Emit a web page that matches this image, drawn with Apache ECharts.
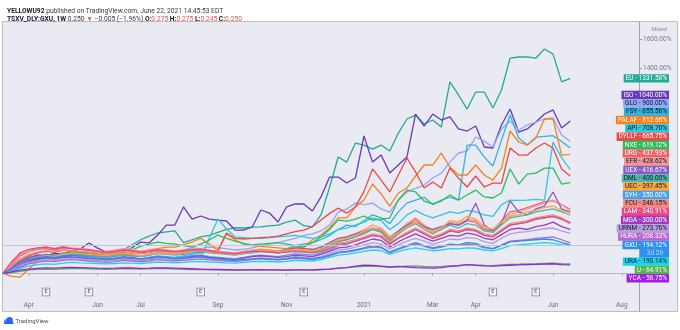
<!DOCTYPE html>
<html>
<head>
<meta charset="utf-8">
<script src="https://cdn.jsdelivr.net/npm/echarts@6/dist/echarts.min.js"></script>
<style>
  html, body { margin: 0; padding: 0; background: #ffffff; }
  #chart { width: 680px; height: 330px; }
</style>
</head>
<body>
<div id="chart"></div>
<script>
// Weekly bars (Monday of each week), with empty weeks to the right of the last bar
const weeks = [
  '2020-03-16','2020-03-23','2020-03-30','2020-04-06','2020-04-13','2020-04-20','2020-04-27',
  '2020-05-04','2020-05-11','2020-05-18','2020-05-25','2020-06-01','2020-06-08','2020-06-15',
  '2020-06-22','2020-06-29','2020-07-06','2020-07-13','2020-07-20','2020-07-27','2020-08-03',
  '2020-08-10','2020-08-17','2020-08-24','2020-08-31','2020-09-07','2020-09-14','2020-09-21',
  '2020-09-28','2020-10-05','2020-10-12','2020-10-19','2020-10-26','2020-11-02','2020-11-09',
  '2020-11-16','2020-11-23','2020-11-30','2020-12-07','2020-12-14','2020-12-21','2020-12-28',
  '2021-01-04','2021-01-11','2021-01-18','2021-01-25','2021-02-01','2021-02-08','2021-02-15',
  '2021-02-22','2021-03-01','2021-03-08','2021-03-15','2021-03-22','2021-03-29','2021-04-05',
  '2021-04-12','2021-04-19','2021-04-26','2021-05-03','2021-05-10','2021-05-17','2021-05-24',
  '2021-05-31','2021-06-07','2021-06-14','2021-06-21','2021-06-28','2021-07-05','2021-07-12',
  '2021-07-19','2021-07-26','2021-08-02','2021-08-09','2021-08-16'
];

// Time-scale labels, keyed by the bar that carries them
const monthTicks = {
  '2020-04-06': 'Apr', '2020-06-01': 'Jun', '2020-07-06': 'Jul', '2020-09-07': 'Sep',
  '2020-11-02': 'Nov', '2021-01-04': '2021', '2021-03-01': 'Mar', '2021-04-05': 'Apr',
  '2021-06-07': 'Jun', '2021-08-02': 'Aug'
};

// Price-scale ticks (percent change)
const priceTicks = [0, 200, 400, 600, 800, 1000, 1200, 1400, 1600];
const Y_MIN = -171;
const Y_MAX = 1716;

// Earnings events on GXU
const earnings = ['2020-04-20', '2020-05-25', '2020-08-24', '2020-11-16', '2021-04-19', '2021-05-24'];

// Percent change from the first bar, per symbol
const EU = [0, 25, 60, 85, 100, 115, 105, 120, 135, 140,
  130, 118, 125, 140, 160, 194, 230, 255, 276, 283,
  290, 210, 230, 250, 260, 280, 300, 312, 310, 316,
  318, 325, 330, 350, 364, 326, 318, 399, 588, 795,
  760, 889, 876, 849, 876, 835, 958, 1054, 1081, 1020,
  1047, 999, 1307, 1218, 1122, 1238, 1238, 1129, 1252, 1470,
  1477, 1477, 1470, 1532, 1497, 1307, 1331.58];
const ISO = [0, 37, 78, 105, 126, 119, 139, 132, 153, 167,
  208, 173, 146, 139, 139, 175, 214, 208, 262, 330,
  330, 454, 371, 392, 371, 364, 358, 296, 296, 317,
  433, 412, 351, 454, 474, 474, 426, 522, 658, 658,
  617, 651, 938, 760, 808, 685, 740, 795, 1088, 1006,
  1088, 1047, 1068, 986, 972, 1006, 863, 856, 1013, 1122,
  965, 986, 1033, 1088, 1116, 992, 1040];
const GLO = [0, 20, 50, 80, 95, 110, 100, 115, 125, 130,
  120, 110, 105, 115, 125, 130, 135, 150, 160, 150,
  145, 160, 175, 170, 180, 175, 170, 160, 165, 175,
  190, 200, 210, 225, 240, 260, 270, 290, 330, 419,
  440, 480, 470, 480, 440, 419, 500, 556, 580, 603,
  651, 685, 760, 822, 835, 931, 903, 863, 986, 1040,
  979, 1013, 1033, 1054, 1061, 945, 900];
const FSY = [0, 15, 40, 70, 90, 100, 95, 110, 120, 115,
  105, 100, 95, 105, 110, 100, 95, 110, 120, 115,
  110, 120, 130, 140, 150, 145, 140, 130, 135, 140,
  150, 160, 150, 170, 190, 200, 210, 230, 260, 300,
  330, 320, 360, 400, 380, 340, 420, 480, 500, 520,
  470, 500, 520, 501, 876, 876, 794, 733, 910, 1081,
  924, 876, 930, 935, 940, 900, 855.56];
const PALAF = [0, -20, -25, 30, 80, 110, 120, 125, 140, 150,
  140, 130, 125, 130, 140, 135, 150, 160, 170, 180,
  180, 195, 215, 240, 200, 160, 269, 230, 200, 190,
  185, 180, 175, 170, 175, 180, 228, 262, 310, 379,
  379, 454, 501, 610, 542, 460, 549, 583, 665, 740,
  740, 822, 726, 672, 672, 740, 672, 637, 719, 972,
  897, 876, 924, 1054, 1054, 808, 812.66];
const API = [0, 20, 50, 75, 90, 100, 95, 105, 110, 105,
  100, 95, 90, 95, 100, 95, 90, 95, 100, 105,
  110, 115, 120, 105, 240, 372, 303, 250, 245, 240,
  240, 245, 250, 255, 260, 250, 240, 250, 270, 300,
  310, 330, 350, 380, 360, 300, 340, 400, 430, 400,
  380, 400, 420, 410, 430, 420, 400, 390, 470, 500,
  498, 500, 505, 500, 897, 788, 708.70];
const DYLLF = [0, 40, 90, 120, 140, 150, 145, 160, 150, 140,
  130, 120, 115, 125, 130, 120, 115, 125, 140, 135,
  130, 140, 150, 145, 155, 150, 276, 240, 235, 240,
  245, 248, 255, 270, 285, 296, 320, 364, 410, 446,
  412, 454, 560, 713, 637, 556, 672, 788, 692, 583,
  624, 583, 719, 651, 590, 665, 590, 617, 617, 856,
  808, 808, 856, 890, 856, 713, 665.75];
const NXE = [0, 30, 60, 90, 110, 120, 115, 130, 145, 140,
  146, 135, 130, 140, 150, 160, 185, 200, 214, 205,
  200, 190, 180, 200, 228, 262, 240, 220, 205, 194,
  200, 205, 210, 200, 190, 180, 210, 248, 300, 364,
  357, 371, 392, 364, 371, 378, 501, 569, 556, 494,
  474, 494, 535, 501, 535, 569, 522, 515, 549, 713,
  610, 678, 685, 719, 719, 610, 619.12];
const URG = [0, 60, 120, 150, 165, 170, 160, 175, 170, 165,
  160, 150, 140, 150, 160, 150, 140, 150, 160, 150,
  145, 150, 160, 165, 150, 140, 135, 130, 140, 150,
  155, 150, 145, 150, 160, 150, 145, 160, 190, 220,
  230, 250, 280, 300, 290, 230, 270, 330, 370, 320,
  280, 300, 340, 330, 360, 350, 300, 290, 360, 420,
  430, 450, 470, 490, 495, 470, 437.93];
const EFR = [0, 70, 130, 160, 170, 180, 170, 185, 175, 170,
  165, 155, 150, 160, 170, 165, 150, 155, 165, 160,
  150, 155, 165, 170, 160, 150, 145, 140, 150, 160,
  165, 160, 150, 160, 170, 165, 160, 170, 200, 240,
  250, 270, 300, 330, 310, 250, 290, 340, 380, 330,
  290, 310, 350, 340, 370, 360, 310, 300, 350, 400,
  420, 440, 460, 480, 500, 470, 428.62];
const UEX = [0, 40, 80, 110, 120, 130, 125, 140, 135, 130,
  125, 120, 115, 120, 130, 125, 120, 130, 140, 135,
  130, 140, 150, 155, 145, 140, 135, 130, 140, 150,
  160, 155, 150, 160, 175, 170, 165, 180, 210, 240,
  250, 270, 290, 310, 300, 240, 290, 330, 350, 320,
  300, 320, 340, 330, 360, 480, 330, 290, 340, 495,
  420, 400, 440, 460, 556, 440, 416.67];
const DML = [0, 30, 70, 100, 115, 125, 120, 135, 130, 125,
  120, 115, 110, 120, 125, 120, 115, 125, 135, 130,
  125, 130, 140, 150, 140, 135, 130, 125, 135, 145,
  150, 145, 140, 150, 160, 155, 150, 165, 190, 220,
  230, 250, 270, 300, 280, 220, 270, 310, 340, 300,
  270, 300, 330, 310, 340, 330, 290, 280, 330, 380,
  390, 400, 420, 430, 440, 420, 400];
const UEC = [0, 20, 60, 90, 110, 120, 115, 130, 140, 135,
  130, 125, 120, 130, 135, 130, 120, 130, 140, 135,
  130, 140, 150, 160, 145, 140, 135, 130, 140, 150,
  160, 155, 150, 155, 165, 160, 155, 170, 200, 230,
  240, 260, 290, 310, 300, 240, 280, 320, 350, 310,
  280, 310, 360, 350, 390, 370, 320, 300, 350, 390,
  400, 420, 430, 450, 460, 430, 397.45];
const SYH = [0, 25, 55, 80, 95, 105, 100, 110, 115, 110,
  105, 100, 95, 100, 110, 105, 100, 110, 115, 110,
  105, 110, 120, 125, 115, 110, 105, 100, 110, 120,
  125, 120, 115, 125, 135, 130, 125, 140, 160, 190,
  200, 220, 240, 260, 250, 200, 240, 270, 300, 270,
  240, 260, 290, 280, 300, 290, 260, 250, 290, 330,
  340, 350, 370, 380, 390, 370, 350];
const FCU = [0, 50, 100, 130, 145, 155, 150, 160, 155, 150,
  145, 140, 130, 140, 150, 145, 135, 140, 150, 145,
  140, 145, 155, 160, 150, 140, 135, 130, 140, 145,
  150, 145, 140, 145, 155, 150, 145, 155, 180, 210,
  215, 230, 250, 270, 260, 210, 245, 280, 310, 280,
  250, 270, 300, 290, 310, 300, 270, 260, 300, 340,
  350, 360, 380, 390, 400, 380, 346.15];
const LAM = [0, 80, 140, 165, 175, 180, 170, 180, 170, 165,
  160, 150, 145, 150, 160, 155, 145, 150, 160, 155,
  150, 155, 160, 165, 155, 145, 140, 135, 145, 150,
  150, 145, 140, 145, 150, 145, 140, 150, 170, 200,
  205, 220, 240, 260, 250, 200, 240, 270, 300, 270,
  240, 260, 290, 280, 300, 290, 260, 250, 290, 330,
  340, 350, 370, 380, 390, 370, 340.91];
const MGA = [0, 30, 60, 85, 100, 110, 105, 115, 110, 105,
  100, 95, 90, 95, 105, 100, 95, 100, 110, 105,
  100, 105, 115, 120, 110, 105, 100, 95, 105, 115,
  120, 115, 110, 115, 125, 120, 115, 130, 150, 175,
  180, 195, 215, 235, 225, 180, 215, 245, 270, 245,
  220, 240, 260, 255, 275, 265, 240, 230, 265, 300,
  310, 300, 320, 330, 350, 320, 300];
const URNM = [0, 25, 55, 75, 85, 95, 90, 100, 105, 100,
  95, 90, 85, 90, 100, 95, 90, 95, 105, 100,
  95, 100, 105, 110, 100, 95, 90, 88, 95, 100,
  105, 100, 98, 105, 115, 110, 105, 115, 135, 160,
  165, 180, 195, 210, 200, 165, 195, 220, 240, 220,
  200, 215, 235, 230, 245, 240, 215, 205, 240, 270,
  280, 285, 295, 305, 310, 290, 273.76];
const HURA = [0, 20, 45, 65, 75, 85, 80, 90, 95, 90,
  85, 80, 75, 80, 90, 85, 80, 85, 95, 90,
  85, 90, 95, 100, 92, 88, 85, 82, 88, 95,
  100, 95, 92, 98, 105, 100, 95, 105, 120, 140,
  145, 155, 170, 180, 175, 140, 165, 185, 200, 185,
  170, 180, 195, 190, 200, 195, 175, 170, 195, 220,
  225, 230, 240, 245, 250, 230, 208.33];
const GXU = [0, 35, 75, 95, 110, 115, 110, 120, 125, 120,
  115, 105, 100, 105, 115, 110, 100, 105, 115, 110,
  100, 105, 110, 115, 105, 100, 95, 90, 95, 100,
  105, 100, 95, 100, 110, 105, 100, 110, 125, 145,
  150, 160, 175, 190, 180, 145, 170, 190, 210, 190,
  175, 185, 200, 195, 210, 205, 180, 170, 190, 215,
  220, 225, 230, 235, 230, 210, 194.12];
const URA = [0, 15, 35, 50, 60, 65, 62, 70, 75, 72,
  70, 68, 65, 68, 72, 70, 68, 72, 78, 75,
  72, 75, 80, 82, 78, 75, 72, 70, 75, 80,
  82, 80, 78, 82, 90, 88, 85, 95, 110, 125,
  130, 140, 150, 160, 155, 130, 150, 165, 175, 165,
  155, 160, 170, 168, 175, 172, 160, 155, 170, 190,
  195, 200, 205, 210, 205, 195, 190.14];
const U = [0, 5, 15, 22, 28, 30, 28, 32, 35, 33,
  32, 30, 28, 30, 33, 32, 30, 32, 35, 33,
  30, 28, 27, 26, 25, 24, 23, 22, 22, 24,
  25, 24, 22, 23, 25, 24, 23, 26, 30, 35,
  40, 45, 48, 50, 47, 42, 45, 50, 52, 48,
  45, 48, 52, 55, 60, 58, 55, 53, 58, 62,
  63, 65, 66, 68, 70, 66, 64.91];
const YCA = [0, 10, 22, 30, 35, 38, 36, 40, 42, 40,
  38, 36, 35, 36, 38, 37, 35, 36, 38, 37,
  36, 34, 32, 30, 28, 27, 26, 25, 24, 25,
  26, 25, 24, 23, 24, 25, 24, 27, 30, 36,
  40, 50, 57, 55, 50, 45, 48, 44, 40, 38,
  36, 40, 48, 52, 60, 55, 52, 50, 53, 56,
  58, 60, 62, 64, 66, 60, 58.75];

const symbols = ['EU', 'ISO', 'GLO', 'FSY', 'PALAF', 'API', 'DYLLF', 'NXE', 'URG', 'EFR', 'UEX',
  'DML', 'UEC', 'SYH', 'FCU', 'LAM', 'MGA', 'URNM', 'HURA', 'GXU', 'URA', 'U', 'YCA'];
const values = { EU, ISO, GLO, FSY, PALAF, API, DYLLF, NXE, URG, EFR, UEX,
  DML, UEC, SYH, FCU, LAM, MGA, URNM, HURA, GXU, URA, U, YCA };
const mainSymbol = 'GXU';

// Line / badge colours and the badge text colour for each symbol
const lineColors = {
  EU: '#22ab94', ISO: '#673ab7', GLO: '#8fa9f6', FSY: '#2fb2e0', PALAF: '#f7811e',
  API: '#2ec7e0', DYLLF: '#e84a4a', NXE: '#2bbd5b', URG: '#f26161', EFR: '#ef9a9a',
  UEX: '#8a5cc8', DML: '#4db6ac', UEC: '#ffa53a', SYH: '#42a0f0', FCU: '#f28b82',
  LAM: '#f0457d', MGA: '#9d3cbf', URNM: '#b39ddb', HURA: '#b865cf', GXU: '#2e8ef0',
  URA: '#18d5ec', U: '#54b450', YCA: '#a21be8'
};
const darkText = { GLO: 1, FSY: 1, API: 1, EFR: 1, DML: 1, UEC: 1, FCU: 1, URNM: 1, URA: 1 };

const FONT = 'Roboto, "Noto Sans", sans-serif';
const isTick = (idx, val) => Object.prototype.hasOwnProperty.call(monthTicks, val);

const chart = echarts.init(document.getElementById('chart'), null, { renderer: 'canvas' });

const series = symbols.map(s => ({
  name: s,
  type: 'line',
  data: values[s],
  showSymbol: false,
  symbol: 'none',
  silent: true,
  lineStyle: { color: lineColors[s], width: 1.3 },
  itemStyle: { color: lineColors[s] },
  emphasis: { disabled: true },
  z: s === mainSymbol ? 3 : 2,
  markLine: s === mainSymbol ? {
    silent: true,
    symbol: 'none',
    label: { show: false },
    lineStyle: { color: '#c3c6d2', width: 1, type: 'solid' },
    data: [{ yAxis: values[s][values[s].length - 1] }]
  } : undefined
}));

chart.setOption({
  animation: false,
  backgroundColor: '#ffffff',
  textStyle: { fontFamily: FONT },
  title: {
    left: 2,
    top: 1.5,
    text: '{b|YELLOWU92} published on TradingView.com, June 22, 2021 14:45:53 EDT\n' +
      '{b|TSXV_DLY:GXU, 1W} 0.250 {r|▼} −0.005 (−1.96%) {b|O:}{r|0.275} {b|H:}{r|0.275} {b|L:}{r|0.245} {b|C:}{r|0.250}',
    textStyle: {
      fontFamily: FONT, fontSize: 6.7, fontWeight: 'normal', color: '#363a45', lineHeight: 8.7,
      rich: {
        b: { fontFamily: FONT, fontSize: 6.7, fontWeight: 'bold', color: '#131722', lineHeight: 8.7 },
        r: { fontFamily: FONT, fontSize: 6.7, color: '#ef5350', lineHeight: 8.7 }
      }
    }
  },
  grid: { left: 3, right: 41, top: 22, bottom: 31.5, containLabel: false, outerBoundsMode: 'none' },
  xAxis: {
    type: 'category',
    data: weeks,
    boundaryGap: false,
    axisLine: { show: true, lineStyle: { color: '#b6b8c2', width: 1 } },
    axisTick: { show: true, interval: isTick, length: 2, lineStyle: { color: '#9598a1' } },
    axisLabel: {
      show: true, interval: isTick, formatter: v => monthTicks[v] || '',
      fontSize: 6.5, color: '#6a6d78', margin: 3.5, fontFamily: FONT
    },
    splitLine: { show: false }
  },
  yAxis: {
    type: 'value',
    position: 'right',
    min: Y_MIN,
    max: Y_MAX,
    axisLine: { show: false },
    axisTick: { show: true, customValues: priceTicks, length: 3, lineStyle: { color: '#9598a1' } },
    axisLabel: {
      show: true, customValues: priceTicks, formatter: v => v.toFixed(2) + '%',
      fontSize: 6.5, color: '#787b86', margin: 4, fontFamily: FONT
    },
    splitLine: { show: false }
  },
  graphic: [
    { id: 'panel', type: 'rect', z: -10, silent: true,
      shape: { x: 2.5, y: 21.5, width: 675, height: 290 },
      style: { fill: '#e9eaf2', stroke: '#b9bbc5', lineWidth: 1 } },
    { id: 'scaleBorder', type: 'line', z: 1, silent: true,
      shape: { x1: 639.5, y1: 21.5, x2: 639.5, y2: 311.5 },
      style: { stroke: '#9fa2ad', lineWidth: 1 } },
    { id: 'mixed', type: 'text', z: 5, silent: true, x: 659, y: 29,
      style: { text: 'Mixed', font: 'italic 6px ' + FONT, fill: '#8a8d97', align: 'center', verticalAlign: 'middle' } },
    { id: 'logoA', type: 'circle', silent: true, shape: { cx: 6.5, cy: 321.5, r: 2.6 }, style: { fill: '#5aa1f5' } },
    { id: 'logoB', type: 'circle', silent: true, shape: { cx: 9.6, cy: 320.3, r: 3.2 }, style: { fill: '#2962ff' } },
    { id: 'logoC', type: 'rect', silent: true, shape: { x: 4, y: 321.5, width: 9.5, height: 2.6, r: 1.2 }, style: { fill: '#2962ff' } },
    { id: 'logoText', type: 'text', silent: true, x: 15.5, y: 321.5,
      style: { text: 'TradingView', font: '6px ' + FONT, fill: '#4a4d57', verticalAlign: 'middle' } }
  ],
  series
});

// Price-scale badges: the main symbol sits on its own level; the others are stacked
// away from it so that no two badges overlap.
const rowH = 8.33;
const badgeRight = 669;
const yOf = v => chart.convertToPixel({ yAxisIndex: 0 }, v);
const finals = symbols.map(s => {
  const v = values[s][values[s].length - 1];
  return { s, v, y: yOf(v) };
});
const main = finals.find(f => f.s === mainSymbol);
main.by = main.y;
const above = finals.filter(f => f.v > main.v).sort((a, b) => a.v - b.v);
const below = finals.filter(f => f.v < main.v).sort((a, b) => b.v - a.v);
let prev = main.y;
above.forEach(f => { f.by = Math.min(f.y, prev - rowH); prev = f.by; });
prev = main.y + rowH;
below.forEach(f => { f.by = Math.max(f.y, prev + rowH); prev = f.by; });

const badgeGraphics = finals.map(f => ({
  id: 'badge_' + f.s,
  type: 'text',
  z: 50,
  silent: true,
  x: badgeRight,
  y: f.by,
  style: {
    text: f.s + ' - ' + f.v.toFixed(2) + '%',
    font: '6.5px ' + FONT,
    fill: darkText[f.s] ? '#131722' : '#ffffff',
    align: 'right',
    verticalAlign: 'middle',
    backgroundColor: lineColors[f.s],
    padding: [0.6, 2, 0.2, 2],
    lineHeight: 7.6
  }
}));
badgeGraphics.push({
  id: 'countdown',
  type: 'text',
  z: 50,
  silent: true,
  x: badgeRight,
  y: main.y + rowH,
  style: {
    text: '3d 2h',
    font: '6.5px ' + FONT,
    fill: '#b9dbff',
    align: 'right',
    verticalAlign: 'middle',
    backgroundColor: lineColors[mainSymbol],
    padding: [0.6, 6, 0.2, 7],
    lineHeight: 7.6
  }
});

// Earnings markers just above the time scale
const bottomY = yOf(Y_MIN);
earnings.forEach((d, i) => {
  badgeGraphics.push({
    id: 'earn_' + i,
    type: 'text',
    z: 40,
    silent: true,
    x: chart.convertToPixel({ xAxisIndex: 0 }, d),
    y: bottomY - 6.5,
    style: {
      text: 'E',
      font: '5.5px ' + FONT,
      fill: '#50535e',
      align: 'center',
      verticalAlign: 'middle',
      backgroundColor: '#f4f4f7',
      borderColor: '#7d808a',
      borderWidth: 0.8,
      padding: [1, 1.8, 0.6, 1.8],
      lineHeight: 5.5
    }
  });
});

// Price-scale labels hidden where a badge sits on the same level
const badgeRows = finals.map(f => f.by).concat([main.y + rowH]);
const freeTicks = priceTicks.filter(t => {
  const ty = yOf(t);
  return badgeRows.every(by => Math.abs(by - ty) > 7.5);
});

chart.setOption({
  graphic: badgeGraphics,
  yAxis: {
    axisTick: { customValues: freeTicks },
    axisLabel: { customValues: freeTicks }
  }
});
</script>
</body>
</html>
